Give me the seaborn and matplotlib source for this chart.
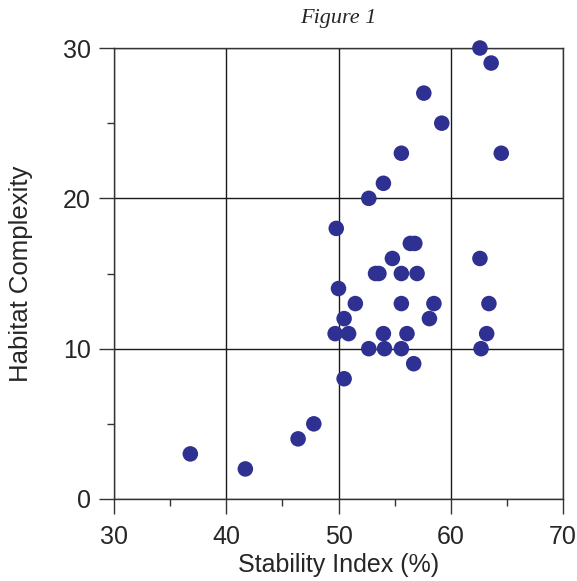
"""Scatter: Habitat Complexity vs Stability Index (Figure 1)."""

import matplotlib
matplotlib.use('Agg')
import matplotlib.pyplot as plt
import seaborn as sns
import pandas as pd
from matplotlib.ticker import MultipleLocator

# Datos
stability = [36.8, 41.7, 46.4, 47.8, 50.5, 49.8, 50.0, 49.7, 50.9, 50.5,
             51.5, 52.7, 54.1, 55.6, 53.3, 53.6, 54.8, 55.6, 57.0, 56.4,
             56.8, 54.0, 55.6, 56.1, 56.7, 58.1, 58.5, 52.7, 54.0, 55.6,
             57.6, 59.2, 62.6, 63.6, 64.5, 62.6, 63.4, 63.2, 62.7]
complexity = [3, 2, 4, 5, 8, 18, 14, 11, 11, 12,
              13, 10, 10, 10, 15, 15, 16, 15, 15, 17,
              17, 11, 13, 11, 9, 12, 13, 20, 21, 23,
              27, 25, 30, 29, 23, 16, 13, 11, 10]

df = pd.DataFrame({'Stability Index (%)': stability,
                   'Habitat Complexity': complexity})

sns.set_style('white')
plt.rcParams['font.family'] = ['Liberation Sans', 'DejaVu Sans']

fig = plt.figure(figsize=(5.77, 5.81), dpi=100)
ax = fig.add_axes([114 / 577, 1 - 499 / 581, 449 / 577, 451 / 581])

sns.scatterplot(data=df, x='Stability Index (%)', y='Habitat Complexity',
                ax=ax, s=125, color='#2E3192', edgecolor='none',
                clip_on=False, zorder=3)

ax.set_xlim(30, 70)
ax.set_ylim(0, 30)
ax.xaxis.set_major_locator(MultipleLocator(10))
ax.xaxis.set_minor_locator(MultipleLocator(5))
ax.yaxis.set_major_locator(MultipleLocator(10))
ax.yaxis.set_minor_locator(MultipleLocator(5))

ax.grid(which='major', color='#1a1a1a', linewidth=1.0)
ax.set_axisbelow(True)
for sp in ax.spines.values():
    sp.set_color('#333333')
    sp.set_linewidth(1.0)

ax.tick_params(which='major', direction='out', length=10.5, width=1,
               color='#333333', labelsize=18, bottom=True, left=True)
ax.tick_params(axis='x', which='major', pad=8)
ax.tick_params(axis='y', which='major', pad=6)
ax.tick_params(which='minor', direction='out', length=5, width=1,
               color='#333333', bottom=True, left=True)

ax.set_xlabel('Stability Index (%)', fontsize=18, labelpad=3)
ax.set_ylabel('Habitat Complexity', fontsize=18.5, labelpad=22)

fig.text(338 / 577, 1 - 19 / 581, 'Figure 1', ha='center', va='center',
         fontsize=16, fontstyle='italic', family='Liberation Serif')

plt.savefig('out.png', dpi=100)
plt.close()
